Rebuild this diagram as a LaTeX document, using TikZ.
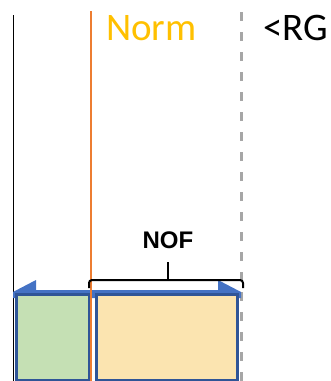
\documentclass[tikz,border=0pt]{standalone}
\usepackage{fontspec}
\setmainfont{Carlito}
\newfontfamily\arialf{Liberation Sans}
\definecolor{normyel}{HTML}{FFC000}
\definecolor{lineorange}{HTML}{ED7D31}
\definecolor{dashgray}{HTML}{A6A6A6}
\definecolor{arrowblue}{HTML}{4472C4}
\definecolor{borderblue}{HTML}{2F5597}
\definecolor{greenfill}{HTML}{C5E0B4}
\definecolor{orangefill}{HTML}{FBE4B0}
\begin{document}
\begin{tikzpicture}[x=1pt,y=-1pt,
  bigtext/.style={font=\fontsize{39}{41}\selectfont, inner sep=0pt, anchor=base west},
  boxstyle/.style={draw=borderblue, line width=3pt},
  bracestyle/.style={draw=black, line width=2pt, rounded corners=3pt}]
\useasboundingbox (0,0) rectangle (331,381);
% vertical lines
\coordinate (blkTop) at (13.5,15);
\coordinate (blkBot) at (13.5,381);
\draw[black, line width=1.5pt] (blkTop) -- (blkBot);
\coordinate (dshTop) at (241.5,12);
\coordinate (dshBot) at (241.5,381);
\draw[dashgray, line width=2.5pt, dash pattern=on 9pt off 11pt] (dshTop) -- (dshBot);
% texts
\node[bigtext, text=normyel] (norm) at (106,40) {Norm};
\node[bigtext, text=black] (rg) at (263,40) {<RG};
% blue arrow
\fill[arrowblue] (13,292) -- (36,280) -- (36,290) -- (218,290) -- (218,280) -- (241,292) -- (241,298) -- (13,298) -- cycle;
% boxes
\node[boxstyle, fill=greenfill, minimum width=73pt, minimum height=86pt, inner sep=0pt, anchor=north west] (green) at (14.5,292.5) {};
\node[boxstyle, fill=orangefill, minimum width=141pt, minimum height=86pt, inner sep=0pt, anchor=north west] (orange) at (94.5,292.5) {};
% orange line
\coordinate (orTop) at (91,11);
\coordinate (orBot) at (91,381);
\draw[lineorange, line width=1.6pt] (orTop) -- (orBot);
% brace
\coordinate (brL) at (89,288);
\coordinate (brR) at (243,288);
\coordinate (brM) at (168,280);
\coordinate (brTip) at (168,262);
\draw[bracestyle] (brL) -- (89,280) -- (243,280) -- (brR);
\draw[black, line width=2pt] (brM) -- (brTip);
\node[font=\arialf\bfseries\fontsize{24}{26}\selectfont, inner sep=0pt, anchor=base] (nof) at (168,248) {NOF};
\end{tikzpicture}
\end{document}
